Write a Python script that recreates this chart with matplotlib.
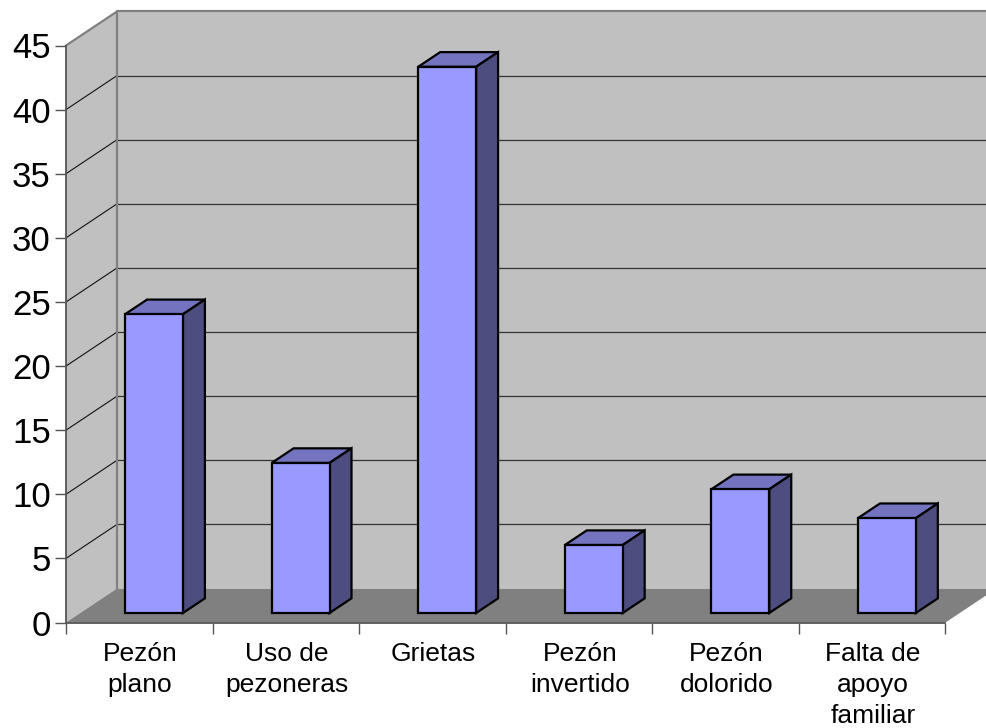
import numpy as np
import matplotlib
matplotlib.use("Agg")
import matplotlib.pyplot as plt
from matplotlib.patches import Polygon

categories = ["Pezón\nplano", "Uso de\npezoneras", "Grietas", "Pezón\ninvertido", "Pezón\ndolorido", "Falta de\napoyo\nfamiliar"]
values = [23.3, 11.7, 42.6, 5.3, 9.65, 7.4]
y_ticks = [0, 5, 10, 15, 20, 25, 30, 35, 40, 45]

W, H = 987, 728
# depth of the fake 3d box, in data units
DX = 51 / 146.5
DY = 34 / 12.82
BAR_W = 0.395
BAR_C = 0.503
D1, D2 = 0.28, 0.71


def proj(x, y, d):
    return (x + d * DX, y + d * DY)


def face(ax, pts, color, z, ec="none", lw=0):
    ax.add_patch(Polygon(pts, closed=True, facecolor=color, edgecolor=ec, linewidth=lw,
                         zorder=z, clip_on=False, joinstyle="miter"))


plt.rcParams["font.family"] = ["Liberation Sans", "DejaVu Sans"]
fig = plt.figure(figsize=(W / 100, H / 100), dpi=100)
ax = fig.add_axes([66 / W, (H - 622.5) / H, (945.5 - 66) / W, 577 / H])
n = len(categories)
ax.set_xlim(0, n)
ax.set_ylim(0, 45)
ax.patch.set_visible(False)

# walls and floor
face(ax, [proj(0, 0, 1), proj(n, 0, 1), proj(n, 45, 1), proj(0, 45, 1)], "#C0C0C0", 1)
face(ax, [proj(0, 0, 0), proj(0, 0, 1), proj(0, 45, 1), proj(0, 45, 0)], "#C0C0C0", 1)
face(ax, [proj(0, 0, 0), proj(n, 0, 0), proj(n, 0, 1), proj(0, 0, 1)], "#808080", 2)

# gridlines
for v in y_ticks[1:-1]:
    x0, y0 = proj(0, v, 1)
    x1, y1 = proj(n, v, 1)
    ax.plot([0, x0], [v, y0], color="#111111", lw=0.8, zorder=3, clip_on=False)
    ax.plot([x0, x1], [y0, y1], color="#333333", lw=0.9, zorder=3, clip_on=False)

# wall edges
x0, y0 = proj(0, 0, 1)
x1, y1 = proj(0, 45, 1)
x2, y2 = proj(n, 45, 1)
ax.plot([x0, x1, x2], [y0, y1, y2], color="#808080", lw=1.6, zorder=3, clip_on=False)
ax.plot([0, x1], [45, y1], color="#808080", lw=1.6, zorder=3, clip_on=False)

# bars
for i, v in enumerate(values):
    left = i + BAR_C - BAR_W / 2
    right = i + BAR_C + BAR_W / 2
    face(ax, [proj(left, v, D1), proj(right, v, D1), proj(right, v, D2), proj(left, v, D2)],
         "#7373BF", 5, "black", 1.6)
    face(ax, [proj(right, 0, D1), proj(right, 0, D2), proj(right, v, D2), proj(right, v, D1)],
         "#4D4D80", 5, "black", 1.6)
    face(ax, [proj(left, 0, D1), proj(right, 0, D1), proj(right, v, D1), proj(left, v, D1)],
         "#9999FF", 6, "black", 1.6)

for s in ["top", "right"]:
    ax.spines[s].set_visible(False)
for s in ["left", "bottom"]:
    ax.spines[s].set_color("#555555")
    ax.spines[s].set_linewidth(1.3)
    ax.spines[s].set_zorder(4)

ax.set_yticks(y_ticks)
ax.tick_params(axis="y", length=8, width=1, color="#555555", labelsize=25, pad=3, labelcolor="black")
ax.set_xticks(np.arange(n + 1))
ax.set_xticklabels([])
ax.tick_params(axis="x", which="major", length=8, width=1, color="#555555")
ax.set_xticks(np.arange(n) + 0.505, minor=True)
ax.set_xticklabels(categories, minor=True, fontsize=19, linespacing=1.36)
ax.tick_params(axis="x", which="minor", length=0, pad=14, labelcolor="black")

fig.savefig("out.png", dpi=100, facecolor="white")
